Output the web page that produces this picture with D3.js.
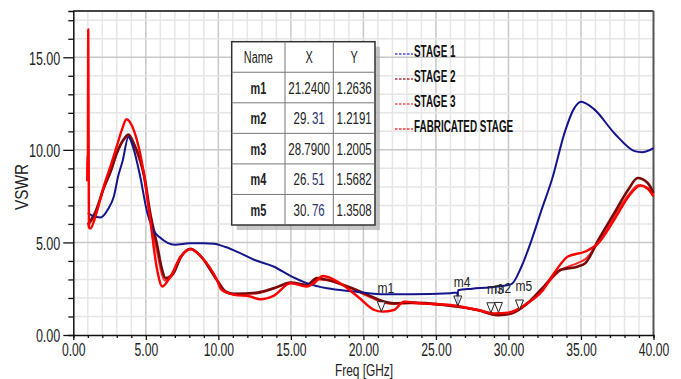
<!DOCTYPE html>
<html>
<head>
<meta charset="utf-8">
<script src="https://cdn.jsdelivr.net/npm/d3@7"></script>
<style>
  body { margin: 0; background: #fff; }
  svg text { font-family: "Liberation Sans", Arial, sans-serif; fill: #222; }
</style>
</head>
<body>
<svg id="chart" width="681" height="379"></svg>
<script>
// series values, [freq GHz, VSWR]
var seriesNames = ["STAGE 1", "STAGE 2", "STAGE 3", "FABRICATED STAGE"];

var stage1 = [[1.0,6.6],[1.3,6.45],[1.9,6.35],[2.4,6.8],[2.8,7.5],[3.1,8.6],[3.4,9.4],[3.8,10.7],[4.1,10.2],
  [4.6,8.6],[5.1,6.6],[5.5,5.7],[6.0,5.25],[6.5,4.98],[7.0,4.88],[8.0,4.95],[9.0,4.96],[9.7,4.93],[10.5,4.75],
  [11.5,4.42],[12.5,4.05],[13.8,3.7],[15.0,3.18],[16.1,2.8],[17.5,2.52],[19.4,2.35],[21.2,2.2],[23.3,2.2],
  [26.0,2.26],[26.48,2.3],[26.5,1.6],[26.52,2.42],[27.5,2.5],[28.8,2.58],[30.2,2.75],[30.9,3.7],[31.6,5.14],
  [32.3,6.8],[33.0,8.4],[33.9,11.0],[34.5,12.2],[35.0,12.6],[35.9,12.2],[37.3,10.9],[38.7,9.93],[39.2,9.87],[40.0,10.1]];

var stage2 = [[1.0,5.96],[1.5,6.6],[2.1,7.94],[2.6,8.9],[3.0,9.83],[3.5,10.6],[3.8,10.83],[4.2,10.3],[4.9,8.57],
  [5.3,6.6],[5.8,4.78],[6.1,3.6],[6.36,3.07],[6.9,3.34],[7.4,4.2],[8.1,4.66],[8.8,4.25],[9.9,2.98],[10.5,2.35],
  [11.1,2.22],[12.7,2.29],[13.8,2.52],[15.0,2.83],[16.1,2.71],[16.8,3.07],[17.5,2.98],[18.9,2.62],[20.3,2.17],
  [21.2,1.86],[22.1,1.71],[23.3,1.75],[25.6,1.62],[27.9,1.35],[29.3,1.08],[30.2,1.17],[31.3,1.71],[32.3,2.5],
  [33.6,3.52],[34.8,3.7],[35.3,3.88],[36.2,5.14],[37.3,6.59],[38.3,7.9],[38.9,8.48],[39.6,8.21],[40.0,7.67]];

var stage3 = [[1.0,5.9],[1.5,6.5],[2.1,7.9],[2.6,8.85],[3.0,9.8],[3.5,10.55],[3.8,10.75],[4.2,10.2],[4.9,8.4],
  [5.3,6.3],[5.8,4.4],[6.1,3.3],[6.3,2.95],[6.9,3.3],[7.4,4.15],[8.1,4.62],[8.8,4.22],[9.9,2.95],[10.5,2.3],
  [11.1,2.2],[12.7,2.25],[13.8,2.5],[15.0,2.8],[16.1,2.68],[16.8,3.0],[17.5,2.95],[18.9,2.6],[20.3,2.1],
  [21.2,1.8],[22.1,1.68],[23.3,1.72],[25.6,1.6],[27.9,1.32],[29.3,1.06],[30.2,1.15],[31.3,1.68],[32.3,2.45],
  [33.6,3.5],[34.8,3.9],[35.3,4.1],[36.2,5.0],[37.3,6.4],[38.3,7.6],[39.0,8.1],[39.6,7.95],[40.0,7.55]];

var fabricated = [[0.96,8.3],[0.98,9.7],[1.0,8.8],[1.03,16.5],[1.05,12.5],[1.08,5.8],[1.17,5.75],[1.6,6.6],
  [2.1,8.03],[2.6,9.2],[3.0,10.2],[3.4,11.2],[3.66,11.65],[4.2,11.0],[4.86,8.75],[5.3,6.23],[5.78,3.52],
  [6.13,2.62],[6.7,3.16],[7.4,4.24],[8.1,4.64],[8.8,4.24],[9.9,2.98],[10.2,2.45],[11.1,2.17],[12.2,2.08],
  [12.9,1.93],[13.8,2.11],[15.0,2.8],[16.1,2.62],[16.6,2.8],[17.2,3.19],[18.4,2.8],[19.6,2.08],[20.75,1.35],
  [21.3,1.26],[22.1,1.35],[22.8,1.8],[24.0,1.71],[26.0,1.62],[27.9,1.35],[29.0,1.17],[30.0,1.21],[31.3,1.71],
  [32.3,2.35],[33.2,3.4],[34.1,4.24],[35.3,4.51],[36.2,4.96],[37.3,6.23],[38.3,7.5],[39.1,8.07],[39.6,7.9],[40.0,7.49]];

// markers / table
var markerNames = ["m1", "m2", "m3", "m4", "m5"];
var markerX = [21.24, 29.31, 28.79, 26.51, 30.76];
var markerXText = ["21.2400", "29. 31", "28.7900", "26. 51", "30. 76"];
var markerY = [1.2636, 1.2191, 1.2005, 1.5682, 1.3508];

var xTicks = [0, 5, 10, 15, 20, 25, 30, 35, 40];
var yTicks = [0, 5, 10, 15];

var lineColors = ["#14148c", "#7a0a0a", "#ff2a2a", "#ff0000"];
var lineWidths = [2, 2.6, 2, 2.4];
var legendColors = ["#4a4ad8", "#a83040", "#ff5050", "#ff3030"];

var svg = d3.select("#chart");
var x = d3.scaleLinear().domain([0, 40]).range([73.3, 653.5]);
var y = d3.scaleLinear().domain([0, 17.5]).range([335, 11]);

// squeeze text horizontally (the reference font is very narrow)
function squeeze(sel, k) {
  sel.each(function() {
    var len = this.getComputedTextLength();
    d3.select(this).attr("textLength", len * k).attr("lengthAdjust", "spacingAndGlyphs");
  });
}

// grid
var grid = svg.append("g");
grid.selectAll(".gx").data(d3.range(1, 40)).enter().append("line")
  .attr("x1", function(d) { return x(d); }).attr("x2", function(d) { return x(d); })
  .attr("y1", y(17.5)).attr("y2", y(0))
  .attr("stroke", function(d) { return d % 5 == 0 ? "#c8c8c8" : "#e6e6e6"; })
  .attr("stroke-width", 1.5);
grid.selectAll(".gy").data(d3.range(1, 18)).enter().append("line")
  .attr("y1", function(d) { return y(d); }).attr("y2", function(d) { return y(d); })
  .attr("x1", x(0)).attr("x2", x(40))
  .attr("stroke", function(d) { return d % 5 == 0 ? "#c8c8c8" : "#e6e6e6"; })
  .attr("stroke-width", 1.5);

// frame top / right
svg.append("line").attr("x1", x(0)).attr("x2", x(40)).attr("y1", y(17.5)).attr("y2", y(17.5))
  .attr("stroke", "#444").attr("stroke-width", 2);
svg.append("line").attr("x1", x(40)).attr("x2", x(40)).attr("y1", y(17.5)).attr("y2", y(0))
  .attr("stroke", "#555").attr("stroke-width", 2);

// axes
var fmt = d3.format(".2f");
var yAxis = svg.append("g").attr("transform", "translate(" + x(0) + ",0)")
  .call(d3.axisLeft(y).tickValues(d3.range(0, 18)).tickSize(5).tickFormat(""));
yAxis.selectAll(".tick line").attr("x2", function(d) { return d % 5 == 0 ? -10 : -5; });
var yLab = svg.append("g").attr("transform", "translate(" + x(0) + ",0)")
  .call(d3.axisLeft(y).tickValues(yTicks).tickSize(0).tickPadding(13).tickFormat(fmt));
yLab.select(".domain").remove();
yLab.selectAll("text").attr("font-size", 19).attr("dy", "0.36em").style("fill", "#222")
  .style("font-family", "Liberation Sans, Arial, sans-serif");
squeeze(yLab.selectAll("text"), 0.66);

var xAxis = svg.append("g").attr("transform", "translate(0," + y(0) + ")")
  .call(d3.axisBottom(x).tickValues(d3.range(0, 41)).tickSize(3).tickFormat(""));
xAxis.selectAll(".tick line").attr("y2", function(d) { return d % 5 == 0 ? 5 : 3; });
var xLab = svg.append("g").attr("transform", "translate(0," + y(0) + ")")
  .call(d3.axisBottom(x).tickValues(xTicks).tickSize(0).tickPadding(8).tickFormat(fmt));
xLab.select(".domain").remove();
xLab.selectAll("text").attr("font-size", 19).attr("dy", "0.71em").style("fill", "#222")
  .style("font-family", "Liberation Sans, Arial, sans-serif");
squeeze(xLab.selectAll("text"), 0.64);
svg.selectAll(".domain").attr("stroke", "#111").attr("stroke-width", 1.5);
svg.selectAll(".tick line").attr("stroke", "#111").attr("stroke-width", 1.3);

var xTitle = svg.append("text").attr("x", 364).attr("y", 376).attr("text-anchor", "middle")
  .attr("font-size", 17).text("Freq [GHz]");
squeeze(xTitle, 0.7);
var yTitle = svg.append("text").attr("transform", "translate(28,187) rotate(-90)")
  .attr("text-anchor", "middle").attr("font-size", 18).text("VSWR");
squeeze(yTitle, 0.85);

// curves
var line = d3.line().x(function(d) { return x(d[0]); }).y(function(d) { return y(d[1]); })
  .curve(d3.curveMonotoneX);
var series = [stage3, stage2, stage1, fabricated];
var order = [2, 1, 0, 3];
var plot = svg.append("g");
series.forEach(function(s, i) {
  var k = order[i];
  plot.append("path").datum(s).attr("d", line).attr("fill", "none")
    .attr("stroke", lineColors[k]).attr("stroke-width", lineWidths[k])
    .attr("stroke-linejoin", "round");
});

// markers
var mk = svg.append("g").selectAll("g").data(markerNames).enter().append("g")
  .attr("transform", function(d, i) { return "translate(" + x(markerX[i]) + "," + y(markerY[i]) + ")"; });
mk.append("path").attr("d", "M0,0L-4,-10L4,-10Z").attr("fill", "#fff").attr("fill-opacity", 0.7)
  .attr("stroke", "#222").attr("stroke-width", 1);
var mkText = mk.append("text").attr("x", -4).attr("y", -19).attr("font-size", 15).text(function(d) { return d; });
squeeze(mkText, 0.8);

// marker table
var tX = 231.7, tY = 41.7, rowH = 30.55;
var colW = [53.3, 48.3, 41.7];
var tW = d3.sum(colW), tH = rowH * 6;
var tbl = svg.append("g");
tbl.append("rect").attr("x", tX + 5).attr("y", tY + 5).attr("width", tW).attr("height", tH)
  .attr("fill", "#9a9a9a").attr("opacity", 0.55);
tbl.append("rect").attr("x", tX).attr("y", tY).attr("width", tW).attr("height", tH)
  .attr("fill", "#fff").attr("stroke", "#333").attr("stroke-width", 1.5);
d3.range(1, 6).forEach(function(r) {
  tbl.append("line").attr("x1", tX).attr("x2", tX + tW).attr("y1", tY + r * rowH).attr("y2", tY + r * rowH)
    .attr("stroke", "#777").attr("stroke-width", 1);
});
[colW[0], colW[0] + colW[1]].forEach(function(cx) {
  tbl.append("line").attr("x1", tX + cx).attr("x2", tX + cx).attr("y1", tY).attr("y2", tY + tH)
    .attr("stroke", "#777").attr("stroke-width", 1);
});
var colMid = [tX + colW[0] / 2, tX + colW[0] + colW[1] / 2, tX + colW[0] + colW[1] + colW[2] / 2];
var header = ["Name", "X", "Y"];
header.forEach(function(h, c) {
  var t = tbl.append("text").attr("x", colMid[c]).attr("y", tY + rowH / 2 + 6).attr("text-anchor", "middle")
    .attr("font-size", 16).text(h);
  squeeze(t, 0.68);
});
markerNames.forEach(function(n, i) {
  var cy = tY + (i + 1.5) * rowH + 6;
  var t0 = tbl.append("text").attr("x", colMid[0]).attr("y", cy).attr("text-anchor", "middle")
    .attr("font-size", 16).attr("font-weight", "bold").text(n);
  squeeze(t0, 0.68);
  var parts = markerXText[i].split(" ");
  var t1 = tbl.append("text").attr("x", colMid[1]).attr("y", cy).attr("text-anchor", "middle")
    .attr("font-size", 16);
  t1.append("tspan").text(parts[0]);
  if (parts.length > 1) t1.append("tspan").style("fill", "#2a3470").text("\u2009" + parts[1]);
  squeeze(t1, 0.72);
  var t2 = tbl.append("text").attr("x", colMid[2]).attr("y", cy).attr("text-anchor", "middle")
    .attr("font-size", 16).text(d3.format(".4f")(markerY[i]));
  squeeze(t2, 0.72);
});

// legend
var lg = svg.append("g").selectAll("g").data(seriesNames).enter().append("g")
  .attr("transform", function(d, i) { return "translate(395," + (57 + i * 25) + ")"; });
lg.append("line").attr("x1", 0).attr("x2", 18).attr("y1", -3).attr("y2", -3)
  .attr("stroke", function(d, i) { return legendColors[i]; }).attr("stroke-width", 1.6)
  .attr("stroke-dasharray", "2.5,1.5");
var lgText = lg.append("text").attr("x", 19).attr("y", 0).attr("font-size", 16.5).attr("font-weight", "bold")
  .style("fill", "#111").text(function(d) { return d; });
squeeze(lgText, 0.6);
</script>
</body>
</html>
